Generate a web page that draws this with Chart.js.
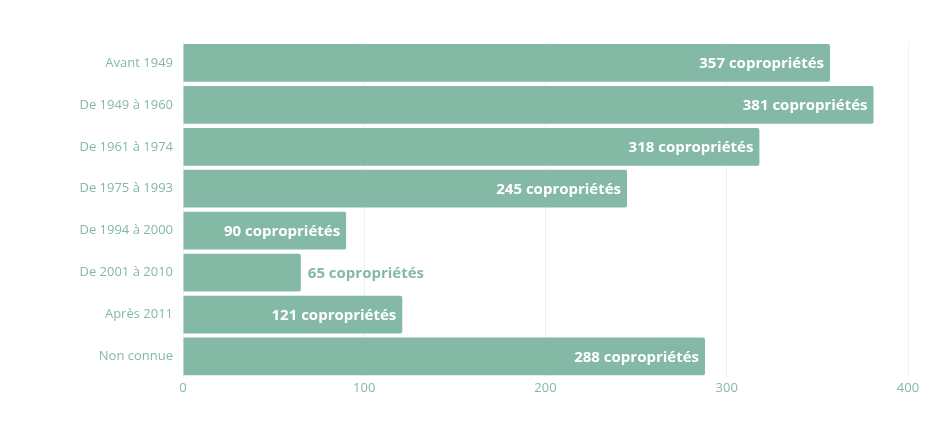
<!DOCTYPE html>
<html lang="fr">
<head>
<meta charset="UTF-8" />
<title>Copropriétés par période de construction</title>
<script src="https://cdn.jsdelivr.net/npm/chart.js"></script>
<style>
  html, body { margin: 0; padding: 0; background: #fff; }
  .chart-container { width: 935px; height: 437px; }
</style>
</head>
<body>
<div class="chart-container">
  <canvas id="coproChart"></canvas>
</div>
<script>
  const periods = [
    "Avant 1949",
    "De 1949 à 1960",
    "De 1961 à 1974",
    "De 1975 à 1993",
    "De 1994 à 2000",
    "De 2001 à 2010",
    "Après 2011",
    "Non connue",
  ];
  const counts = [357, 381, 318, 245, 90, 65, 121, 288];
  const xTicks = [0, 100, 200, 300, 400];

  const green = "#84b9a6";

  // draws "N copropriétés" at the end of each bar (outside if it doesn't fit)
  const barLabels = {
    id: "barLabels",
    afterDatasetsDraw(chart) {
      const ctx = chart.ctx;
      const meta = chart.getDatasetMeta(0);
      ctx.save();
      ctx.font = "bold 15px 'Open Sans', sans-serif";
      ctx.textBaseline = "middle";
      meta.data.forEach((bar, i) => {
        const text = counts[i] + " copropriétés";
        const w = ctx.measureText(text).width;
        const barW = bar.x - bar.base;
        if (w + 14 < barW) {
          ctx.fillStyle = "#ffffff";
          ctx.textAlign = "right";
          ctx.fillText(text, bar.x - 6, bar.y + 1);
        } else {
          ctx.fillStyle = green;
          ctx.textAlign = "left";
          ctx.fillText(text, bar.x + 7, bar.y + 1);
        }
      });
      ctx.restore();
    },
  };

  new Chart(document.getElementById("coproChart"), {
    type: "bar",
    data: {
      labels: periods,
      datasets: [
        {
          data: counts,
          backgroundColor: green,
          borderRadius: 2,
          borderSkipped: "start",
          barPercentage: 0.9,
          categoryPercentage: 1,
        },
      ],
    },
    options: {
      indexAxis: "y",
      responsive: true,
      maintainAspectRatio: false,
      animation: false,
      layout: { padding: { top: 42, right: 27, bottom: 38, left: 0 } },
      plugins: {
        legend: { display: false },
        tooltip: { enabled: false },
      },
      scales: {
        x: {
          min: 0,
          max: 400,
          afterBuildTicks(scale) {
            scale.ticks = xTicks.map((v) => ({ value: v }));
          },
          grid: { color: "#edf3f0", drawTicks: false },
          border: { display: false },
          ticks: {
            color: green,
            padding: 3,
            font: { family: "'Open Sans'", size: 13 },
          },
        },
        y: {
          afterFit(scale) {
            scale.width = 183;
          },
          grid: { display: false, drawTicks: false },
          border: { color: "#edf3f0" },
          ticks: {
            color: green,
            padding: 10,
            font: { family: "'Open Sans'", size: 13 },
          },
        },
      },
    },
    plugins: [barLabels],
  });
</script>
</body>
</html>
